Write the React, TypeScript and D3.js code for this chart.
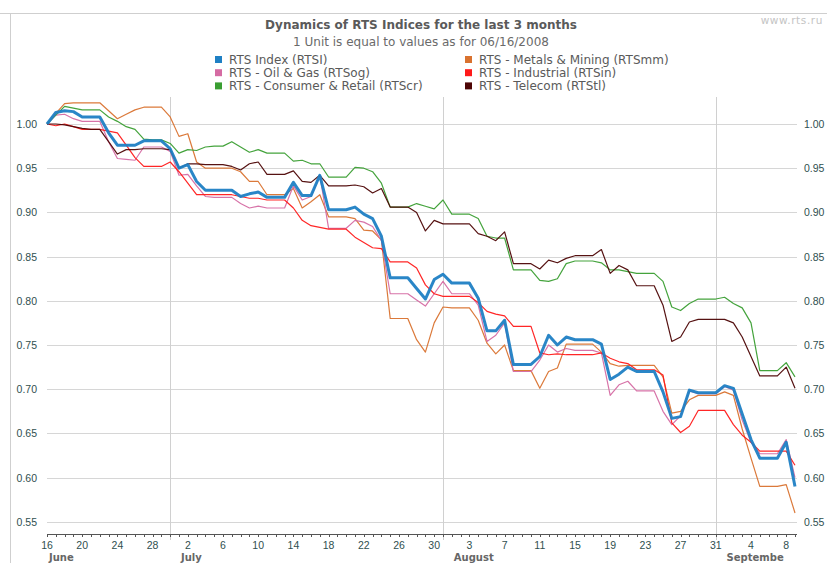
import React from "react";
import * as d3 from "d3";

const startDate = new Date(2008, 5, 16);
const endDate = new Date(2008, 8, 9);
const dates: Date[] = d3.timeDay.range(startDate, d3.timeDay.offset(endDate, 1));

const rtsi = [1.000,1.013,1.015,1.014,1.008,1.008,1.008,0.990,0.976,0.976,0.976,0.981,0.981,0.981,0.972,0.950,0.954,0.935,0.925,0.925,0.925,0.925,0.918,0.921,0.923,0.917,0.917,0.917,0.934,0.919,0.919,0.942,0.903,0.903,0.903,0.906,0.898,0.893,0.873,0.826,0.826,0.826,0.814,0.802,0.824,0.830,0.820,0.820,0.820,0.803,0.766,0.766,0.778,0.728,0.728,0.728,0.737,0.761,0.750,0.759,0.756,0.756,0.756,0.751,0.711,0.717,0.725,0.720,0.720,0.720,0.697,0.667,0.669,0.699,0.696,0.696,0.696,0.704,0.701,0.672,0.643,0.622,0.622,0.622,0.640,0.590];
const rtsmm = [1.000,1.012,1.023,1.024,1.024,1.024,1.024,1.015,1.006,1.011,1.016,1.019,1.019,1.019,1.008,0.986,0.989,0.957,0.950,0.950,0.950,0.950,0.946,0.935,0.935,0.920,0.920,0.920,0.927,0.905,0.912,0.920,0.895,0.895,0.895,0.893,0.880,0.879,0.869,0.780,0.780,0.780,0.756,0.742,0.775,0.793,0.792,0.792,0.792,0.778,0.752,0.740,0.750,0.721,0.721,0.721,0.701,0.720,0.724,0.751,0.751,0.751,0.751,0.742,0.729,0.726,0.727,0.727,0.727,0.727,0.714,0.673,0.675,0.688,0.693,0.693,0.693,0.697,0.693,0.655,0.622,0.590,0.590,0.590,0.592,0.560];
const rtsog = [1.000,1.010,1.011,1.006,1.003,1.003,1.003,0.980,0.961,0.960,0.959,0.974,0.974,0.974,0.969,0.942,0.943,0.930,0.918,0.917,0.917,0.917,0.910,0.905,0.907,0.905,0.905,0.905,0.930,0.914,0.918,0.942,0.882,0.882,0.882,0.891,0.889,0.884,0.868,0.808,0.808,0.808,0.801,0.794,0.808,0.822,0.808,0.808,0.808,0.795,0.754,0.761,0.775,0.720,0.720,0.720,0.733,0.750,0.742,0.746,0.744,0.744,0.744,0.741,0.693,0.705,0.709,0.698,0.698,0.698,0.675,0.660,0.670,0.698,0.695,0.695,0.695,0.703,0.699,0.665,0.640,0.627,0.627,0.627,0.643,0.600];
const rtsin = [1.000,0.998,1.000,0.997,0.994,0.994,0.994,0.992,0.990,0.976,0.962,0.952,0.952,0.952,0.957,0.946,0.933,0.920,0.920,0.920,0.920,0.920,0.918,0.916,0.916,0.914,0.914,0.914,0.905,0.891,0.885,0.883,0.881,0.881,0.881,0.872,0.866,0.860,0.859,0.844,0.844,0.844,0.837,0.818,0.808,0.805,0.805,0.805,0.805,0.798,0.788,0.785,0.783,0.771,0.771,0.771,0.741,0.739,0.740,0.739,0.739,0.739,0.739,0.741,0.735,0.731,0.729,0.722,0.722,0.722,0.716,0.662,0.651,0.658,0.676,0.676,0.676,0.676,0.660,0.648,0.640,0.630,0.630,0.630,0.630,0.614];
const rtscr = [1.000,1.010,1.020,1.018,1.016,1.016,1.016,1.008,1.003,0.997,0.994,0.983,0.982,0.982,0.978,0.967,0.971,0.970,0.974,0.975,0.975,0.980,0.974,0.968,0.971,0.967,0.967,0.967,0.958,0.959,0.955,0.955,0.940,0.940,0.940,0.951,0.950,0.946,0.933,0.906,0.906,0.906,0.910,0.907,0.904,0.914,0.898,0.898,0.898,0.893,0.873,0.871,0.871,0.835,0.835,0.835,0.823,0.822,0.825,0.842,0.845,0.845,0.845,0.843,0.835,0.835,0.833,0.831,0.831,0.831,0.822,0.793,0.789,0.797,0.802,0.802,0.802,0.804,0.797,0.792,0.775,0.721,0.721,0.721,0.730,0.714];
const rtstl = [1.000,1.000,0.999,0.997,0.995,0.994,0.994,0.980,0.966,0.971,0.971,0.972,0.972,0.972,0.971,0.950,0.955,0.955,0.954,0.954,0.954,0.952,0.948,0.955,0.957,0.943,0.943,0.943,0.947,0.935,0.934,0.942,0.930,0.930,0.930,0.931,0.929,0.922,0.927,0.906,0.906,0.906,0.900,0.879,0.891,0.887,0.887,0.887,0.887,0.876,0.873,0.868,0.878,0.842,0.842,0.842,0.836,0.846,0.843,0.848,0.851,0.851,0.851,0.858,0.831,0.840,0.835,0.817,0.817,0.817,0.795,0.754,0.759,0.776,0.779,0.779,0.779,0.779,0.775,0.759,0.737,0.715,0.715,0.715,0.725,0.701];

const seriesNames = [
  "RTS Index (RTSI)",
  "RTS - Metals & Mining (RTSmm)",
  "RTS - Oil & Gas (RTSog)",
  "RTS - Industrial (RTSin)",
  "RTS - Consumer & Retail (RTScr)",
  "RTS - Telecom (RTStl)",
];
const seriesValues = [rtsi, rtsmm, rtsog, rtsin, rtscr, rtstl];
const seriesColors = ["#1f80c4", "#d9722f", "#d56ba3", "#ff1a1a", "#3a9e32", "#4d0505"];
const seriesWidths = [3, 1.2, 1.2, 1.2, 1.2, 1.2];
const drawOrder = [1, 2, 3, 4, 5, 0];

const yTicks = [1.0, 0.95, 0.9, 0.85, 0.8, 0.75, 0.7, 0.65, 0.6, 0.55];
const monthLabels = ["June", "July", "August", "Septembe"];
const monthStarts = [new Date(2008, 5, 16), new Date(2008, 6, 1), new Date(2008, 7, 1), new Date(2008, 8, 1)];
const monthLines = [new Date(2008, 5, 30), new Date(2008, 6, 31), new Date(2008, 7, 31)];

const W = 827;
const H = 563;
const left = 47;
const right = 795;
const plotTop = 97;
const axisY = 534;

export default function App() {
  const x = d3.scaleTime().domain([startDate, endDate]).range([left, right]);
  const y = d3.scaleLinear().domain([0.55, 1.0]).range([521.8, 124]);
  const gridRight = 797;

  const line = d3
    .line<number>()
    .x((_, i) => x(dates[i]))
    .y((v) => y(v));

  const labelDays = dates.filter((_, i) => i % 4 === 0);
  const fmtDay = d3.timeFormat("%-d");
  const tickFont = "'Liberation Sans', Arial, sans-serif";
  const textFont = "'DejaVu Sans', Verdana, sans-serif";

  return (
    <svg width={W} height={H} style={{ position: "absolute", left: 0, top: 0, background: "#fff" }}>
      <rect x={0} y={0} width={W} height={H} fill="#fff" />
      {/* frame */}
      <line x1={0} x2={W} y1={13.5} y2={13.5} stroke="#cfcfcf" />
      <line x1={10.5} x2={10.5} y1={13} y2={H} stroke="#cfcfcf" />
      <text x={823} y={24} textAnchor="end" fontFamily={textFont} fontSize={10.5} fill="#c4c4c4" letterSpacing={0.6}>
        www.rts.ru
      </text>

      {/* titles */}
      <text x={421} y={29} textAnchor="middle" fontFamily={textFont} fontWeight="bold" fontSize={12} fill="#5a5a5a">
        Dynamics of RTS Indices for the last 3 months
      </text>
      <text x={421} y={46} textAnchor="middle" fontFamily={textFont} fontSize={12} fill="#6a6a6a">
        1 Unit is equal to values as for 06/16/2008
      </text>

      {/* legend */}
      {seriesNames.map((name, i) => {
        const col = i % 2;
        const row = Math.floor(i / 2);
        const lx = col === 0 ? 215 : 465;
        const ly = 60 + row * 13.2;
        return (
          <g key={name}>
            <rect x={lx} y={ly - 4} width={7} height={7} fill={seriesColors[i]} />
            <text x={lx + 14} y={ly + 4} fontFamily={textFont} fontSize={12} fill="#5a5a5a">
              {name}
            </text>
          </g>
        );
      })}

      {/* horizontal gridlines */}
      {yTicks.map((t) => (
        <g key={t}>
          <line x1={left} x2={gridRight} y1={Math.round(y(t)) + 0.5} y2={Math.round(y(t)) + 0.5} stroke="#d6d6d6" />
          <text x={37} y={y(t) + 4} textAnchor="end" fontFamily={tickFont} fontSize={10.5} fill="#2f4f4f">
            {t.toFixed(2)}
          </text>
          <text x={804} y={y(t) + 4} textAnchor="start" fontFamily={tickFont} fontSize={10.5} fill="#2f4f4f">
            {t.toFixed(2)}
          </text>
        </g>
      ))}

      {/* month lines */}
      {monthLines.map((d, i) => (
        <line key={i} x1={Math.round(x(d)) + 0.5} x2={Math.round(x(d)) + 0.5} y1={plotTop} y2={540} stroke="#d0d0d0" />
      ))}

      {/* series */}
      {drawOrder.map((i) => (
        <path
          key={seriesNames[i]}
          d={line(seriesValues[i]) || ""}
          fill="none"
          stroke={seriesColors[i]}
          strokeWidth={seriesWidths[i]}
          strokeLinejoin="round"
          strokeOpacity={0.95}
        />
      ))}

      {/* x axis */}
      <line x1={left} x2={gridRight} y1={axisY + 0.5} y2={axisY + 0.5} stroke="#555" />
      {dates.map((d, i) => (
        <line key={i} x1={Math.round(x(d)) + 0.5} x2={Math.round(x(d)) + 0.5} y1={axisY} y2={axisY + 3} stroke="#555" />
      ))}
      {labelDays.map((d, i) => (
        <text key={i} x={x(d)} y={549} textAnchor="middle" fontFamily={tickFont} fontSize={10.5} fill="#2f4f4f">
          {fmtDay(d)}
        </text>
      ))}
      {monthLabels.map((m, i) => (
        <text key={m} x={x(monthStarts[i]) + 2} y={561} fontFamily={textFont} fontWeight="bold" fontSize={10} fill="#666">
          {m}
        </text>
      ))}
    </svg>
  );
}
